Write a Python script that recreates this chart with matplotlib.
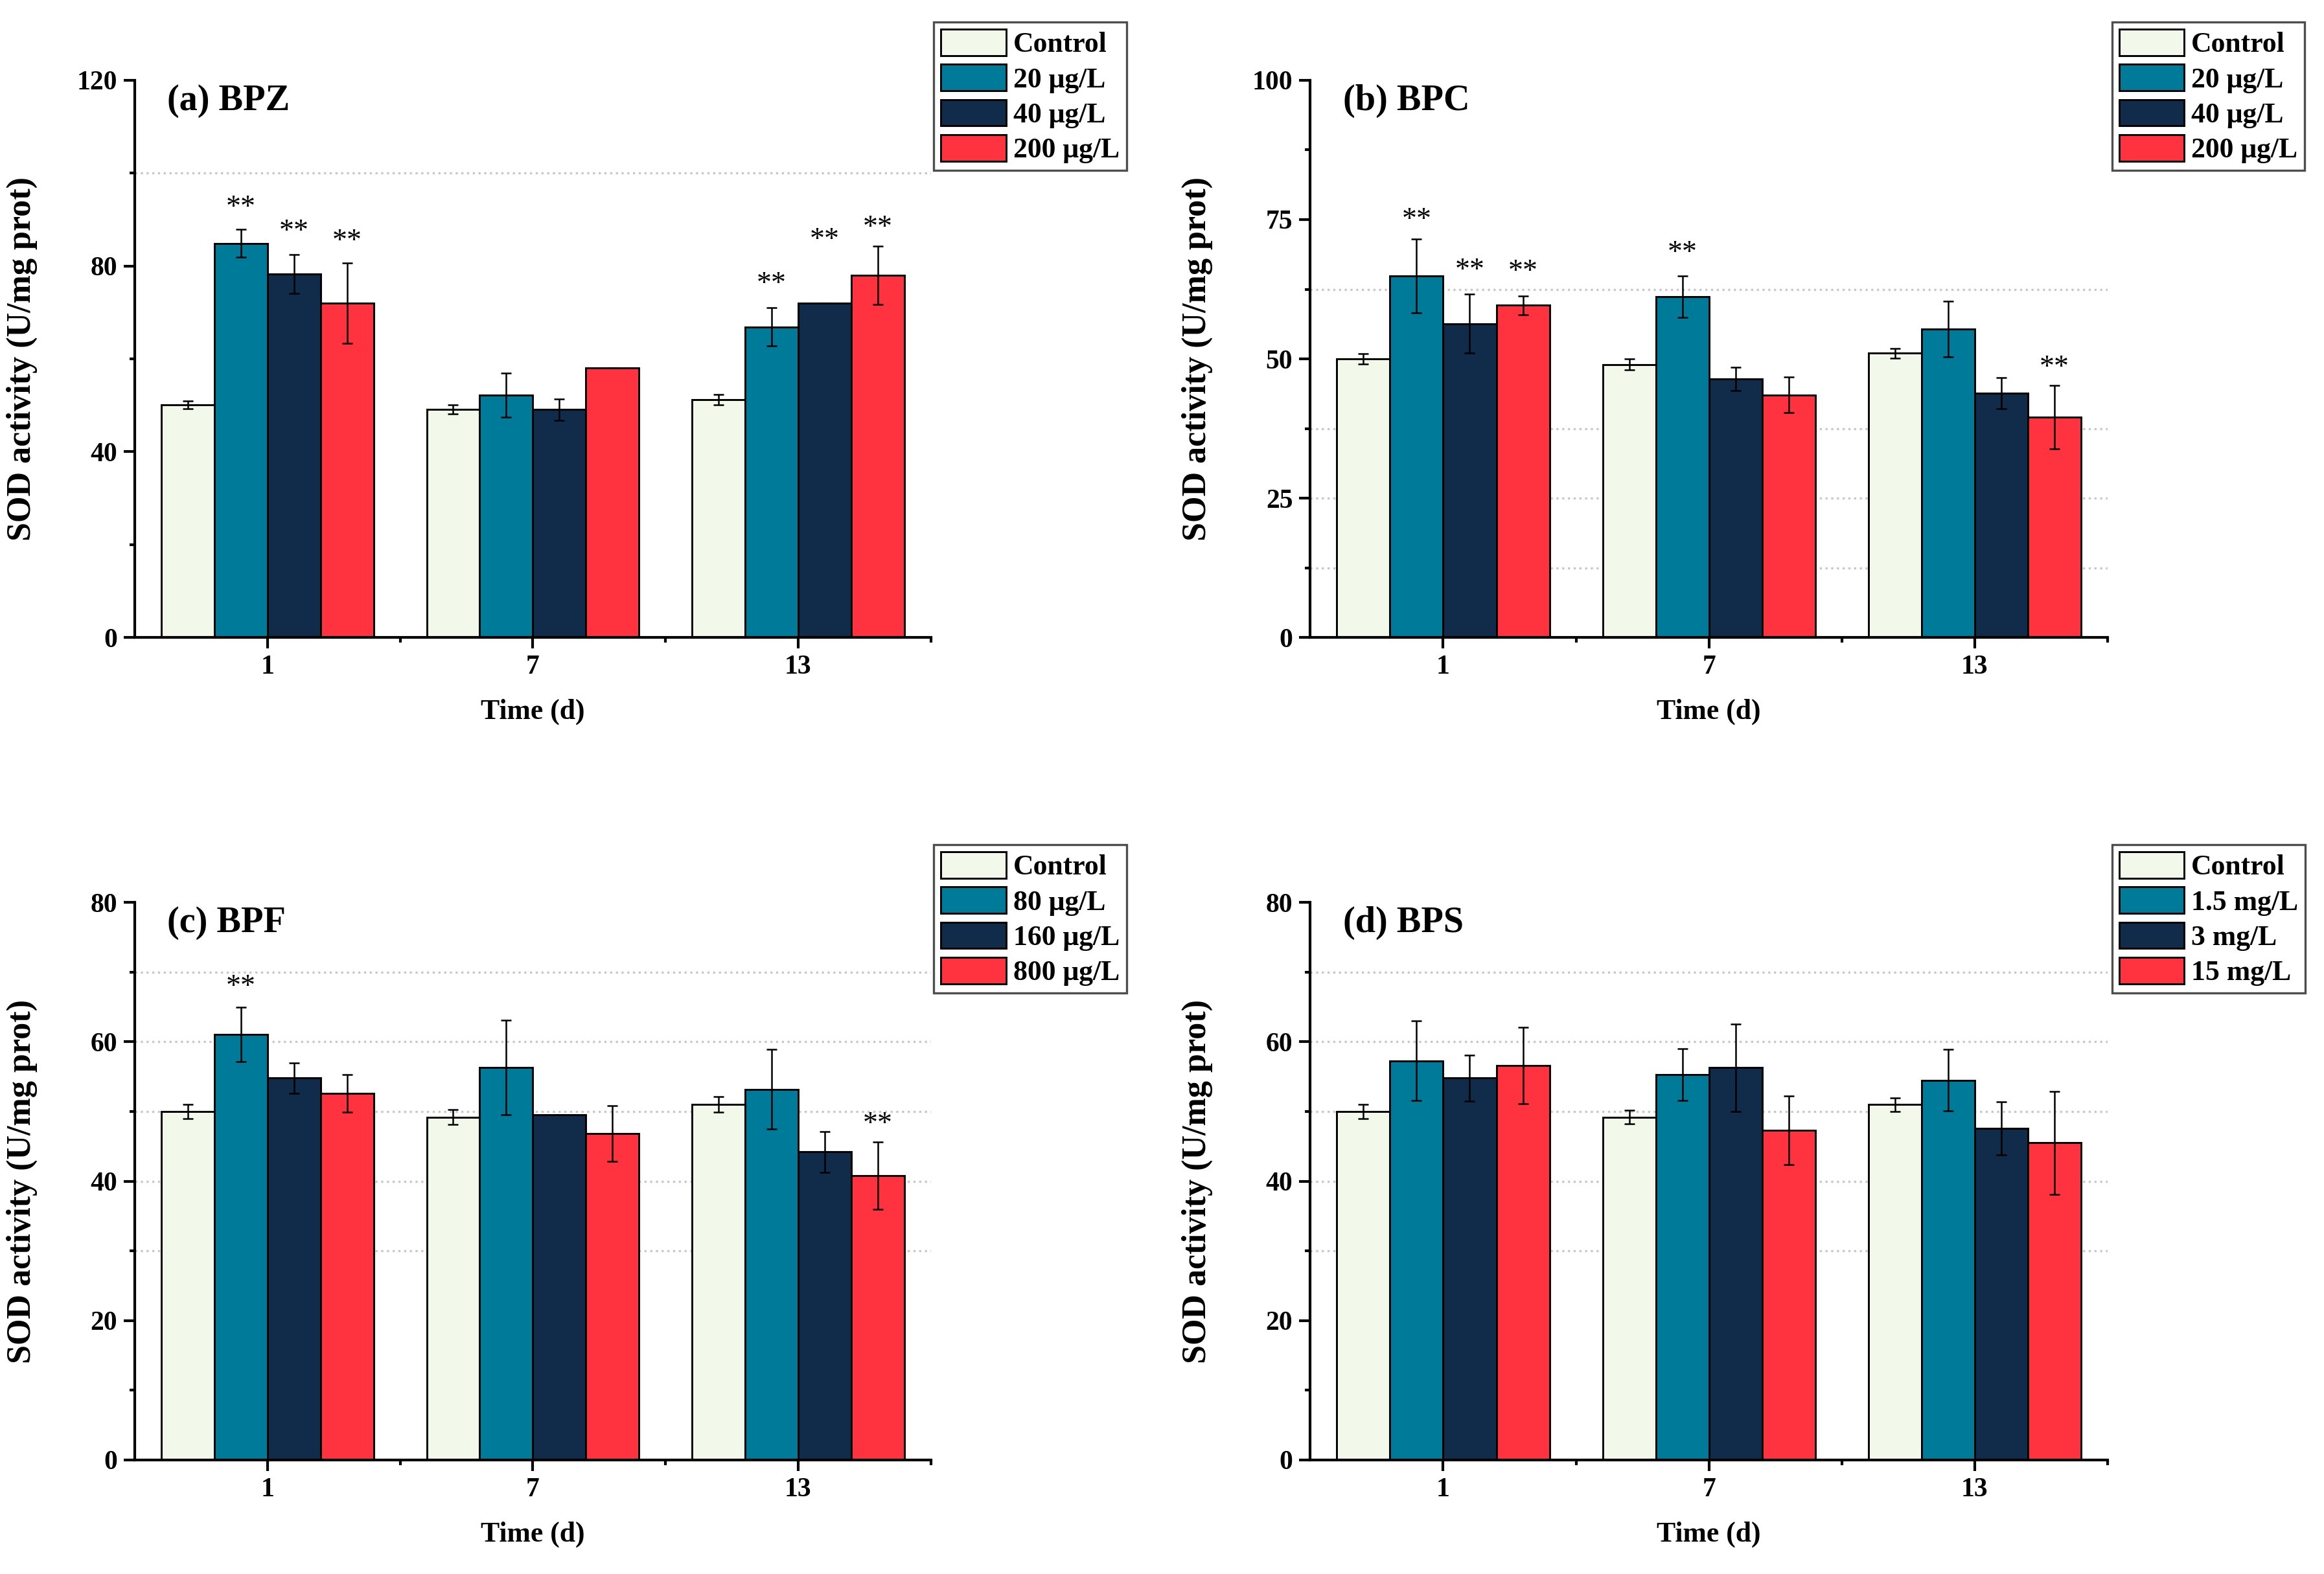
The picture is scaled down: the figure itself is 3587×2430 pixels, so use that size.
import matplotlib
matplotlib.use('Agg')
import matplotlib.pyplot as plt
from matplotlib.ticker import MultipleLocator
import numpy as np

plt.rcParams['font.family'] = ['Liberation Serif', 'DejaVu Serif']
plt.rcParams['font.weight'] = 'bold'

# data
days = ['1', '7', '13']
colors = ['#F2F9EA', '#007A99', '#112B4A', '#FF3340']

bpz_labels = ['Control', '20 μg/L', '40 μg/L', '200 μg/L']
bpz_mean = [[50.1, 49.1, 51.2], [84.9, 52.2, 66.9], [78.3, 49.1, 72.0], [72.0, 58.1, 78.0]]
bpz_err = [[0.9, 1.0, 1.1], [3.0, 4.7, 4.1], [4.2, 2.3, 0.0], [8.6, 0.0, 6.3]]
bpz_stars = [(0, 1, 92.4), (0, 2, 87.2), (0, 3, 85.2), (2, 1, 76.0), (2, 2, 85.4), (2, 3, 88.1)]

bpc_labels = ['Control', '20 μg/L', '40 μg/L', '200 μg/L']
bpc_mean = [[50.0, 49.0, 51.0], [64.9, 61.2, 55.3], [56.3, 46.4, 43.8], [59.6, 43.5, 39.5]]
bpc_err = [[0.95, 1.0, 0.9], [6.6, 3.7, 5.0], [5.3, 2.05, 2.8], [1.65, 3.2, 5.7]]
bpc_stars = [(0, 1, 74.8), (0, 2, 65.7), (0, 3, 65.5), (1, 1, 68.9), (2, 3, 48.3)]

bpf_labels = ['Control', '80 μg/L', '160 μg/L', '800 μg/L']
bpf_mean = [[50.0, 49.2, 51.0], [61.1, 56.3, 53.2], [54.8, 49.5, 44.2], [52.6, 46.8, 40.8]]
bpf_err = [[1.0, 1.1, 1.1], [3.9, 6.8, 5.7], [2.2, 0.0, 2.9], [2.7, 4.0, 4.8]]
bpf_stars = [(0, 1, 67.8), (2, 3, 48.1)]

bps_labels = ['Control', '1.5 mg/L', '3 mg/L', '15 mg/L']
bps_mean = [[50.0, 49.2, 51.0], [57.3, 55.3, 54.5], [54.8, 56.3, 47.6], [56.6, 47.3, 45.5]]
bps_err = [[1.0, 1.0, 1.0], [5.7, 3.7, 4.4], [3.3, 6.3, 3.8], [5.5, 4.9, 7.4]]
bps_stars = []

W, H = 3587, 2430
fig = plt.figure(figsize=(W / 300, H / 300), dpi=300)
fig.patch.set_facecolor('white')

bw = 0.2


def panel(rect, title, labels, mean, err, stars, ymax, major, minor, grid, leg_xy):
    ax = fig.add_axes(rect)
    x = np.arange(1, len(days) + 1)
    for i in range(4):
        xs = x + (i - 1.5) * bw
        ax.bar(xs, mean[i], width=bw, color=colors[i], edgecolor='black',
               linewidth=0.7, label=labels[i], zorder=2)
        ax.errorbar(xs, mean[i], yerr=err[i], fmt='none', ecolor='black',
                    elinewidth=0.6, capsize=2, capthick=0.6, zorder=3)
    for g, s, yy in stars:
        ax.text(x[g] + (s - 1.5) * bw, yy, '**', ha='center', va='center',
                fontsize=11, fontweight='normal', zorder=4)
    for gy in grid:
        ax.axhline(gy, color='#c8c8c8', linestyle=':', linewidth=0.8, zorder=0)
    ax.set_xlim(0.5, 3.5)
    ax.set_ylim(0, ymax)
    ax.set_xticks(x)
    ax.set_xticklabels(days)
    ax.set_xticks([1.5, 2.5, 3.5], minor=True)
    ax.yaxis.set_major_locator(MultipleLocator(major))
    ax.yaxis.set_minor_locator(MultipleLocator(minor))
    ax.spines['top'].set_visible(False)
    ax.spines['right'].set_visible(False)
    for sp in ['left', 'bottom']:
        ax.spines[sp].set_linewidth(1.0)
    ax.tick_params(axis='both', which='major', direction='out', length=4, width=1.0,
                   labelsize=10, pad=2.5)
    ax.tick_params(axis='both', which='minor', direction='out', length=2, width=1.0)
    ax.set_ylabel('SOD activity (U/mg prot)', fontsize=12.5, fontweight='bold')
    ax.set_xlabel('Time (d)', fontsize=10.5, fontweight='bold')
    ax.yaxis.set_label_coords(-0.122, 0.5)
    ax.xaxis.set_label_coords(0.5, -0.11)
    ax.text(0.041, 0.963, title, transform=ax.transAxes, ha='left', va='center',
            fontsize=13.5, fontweight='bold')
    leg = ax.legend(loc='upper left', bbox_to_anchor=leg_xy, bbox_transform=fig.transFigure,
                    fontsize=10.5, frameon=True, fancybox=False, edgecolor='#222222',
                    handlelength=2.3, handleheight=1.05, labelspacing=0.23,
                    handletextpad=0.25, borderpad=0.25, borderaxespad=0)
    leg.get_frame().set_linewidth(0.8)
    for t in leg.get_texts():
        t.set_fontweight('bold')
    return ax


panel([0.058, 0.595, 0.3425, 0.354], '(a) BPZ', bpz_labels, bpz_mean, bpz_err, bpz_stars,
      120, 40, 20, [100], (0.4018, 0.9859))
panel([0.5638, 0.595, 0.3431, 0.354], '(b) BPC', bpc_labels, bpc_mean, bpc_err, bpc_stars,
      100, 25, 12.5, [62.5, 37.5, 25, 12.5], (0.9088, 0.9859))
panel([0.058, 0.0725, 0.3425, 0.3541], '(c) BPF', bpf_labels, bpf_mean, bpf_err, bpf_stars,
      80, 20, 10, [70, 60, 50, 40, 30], (0.4018, 0.4633))
panel([0.5638, 0.0725, 0.3431, 0.3541], '(d) BPS', bps_labels, bps_mean, bps_err, bps_stars,
      80, 20, 10, [70, 60, 50, 40, 30], (0.9088, 0.4633))

plt.savefig('out.png', dpi=300, facecolor='white')
